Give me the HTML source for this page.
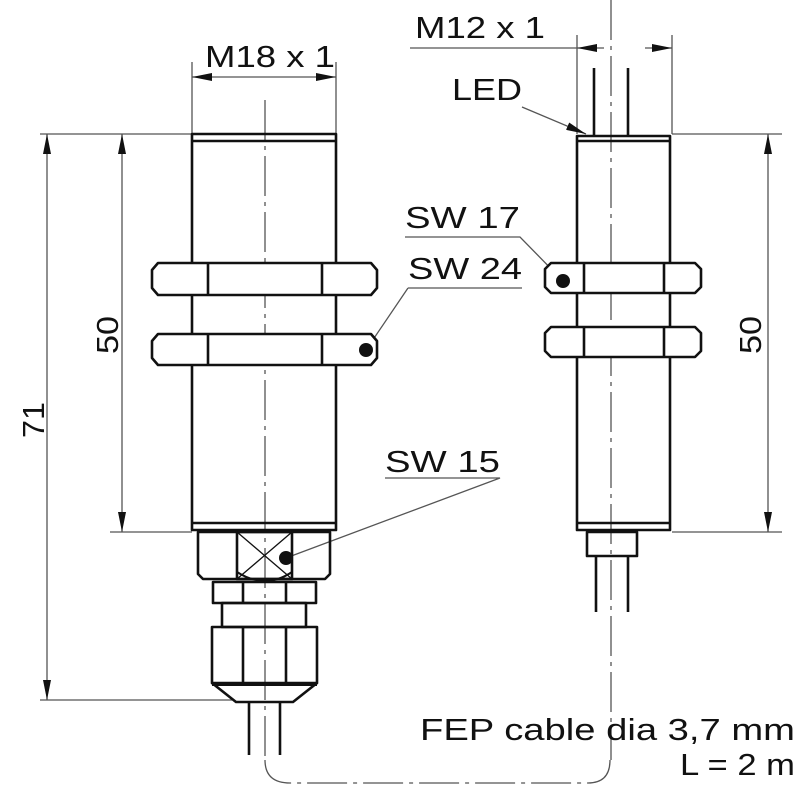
<!DOCTYPE html>
<html><head><meta charset="utf-8"><style>
html,body{margin:0;padding:0;background:#fff;}
svg{display:block;}
text{font-family:"Liberation Sans",Arial,sans-serif;fill:#111;}
</style></head><body>
<svg width="800" height="800" viewBox="0 0 800 800" xmlns="http://www.w3.org/2000/svg">
<defs>
<marker id="a" viewBox="0 0 20 8" refX="20" refY="4" markerWidth="20" markerHeight="8" markerUnits="userSpaceOnUse" orient="auto-start-reverse"><path d="M0,0 L20,4 L0,8 Z" fill="#111"/></marker>
</defs>
<g stroke="#555" stroke-width="1.3" fill="none">
<line x1="265" y1="100" x2="265" y2="760" stroke-dasharray="40,6,4,6"/>
<path d="M265,760 Q265,783 290,783 L588,783 Q610,783 610,760" stroke-dasharray="40,6,4,6"/>
<line x1="611" y1="0" x2="611" y2="760" stroke-dasharray="40,6,4,6"/>
<line x1="40" y1="134" x2="192" y2="134"/>
<line x1="40" y1="700" x2="232" y2="700"/>
<line x1="110" y1="532" x2="192" y2="532"/>
<line x1="47" y1="134" x2="47" y2="700" marker-start="url(#a)" marker-end="url(#a)"/>
<line x1="122" y1="134" x2="122" y2="532" marker-start="url(#a)" marker-end="url(#a)"/>
<line x1="192" y1="62" x2="192" y2="134"/>
<line x1="336" y1="62" x2="336" y2="134"/>
<line x1="192" y1="77" x2="336" y2="77" marker-start="url(#a)" marker-end="url(#a)"/>
<line x1="577" y1="35" x2="577" y2="134"/>
<line x1="672" y1="35" x2="672" y2="134"/>
<line x1="410" y1="48" x2="577" y2="48"/>
<line x1="577" y1="48" x2="604" y2="48" marker-start="url(#a)"/>
<line x1="645" y1="48" x2="672" y2="48" marker-end="url(#a)"/>
<line x1="672" y1="134" x2="782" y2="134"/>
<line x1="672" y1="532" x2="782" y2="532"/>
<line x1="768" y1="134" x2="768" y2="532" marker-start="url(#a)" marker-end="url(#a)"/>
<line x1="522" y1="107" x2="586" y2="134" marker-end="url(#a)"/>
<path d="M405,237 L520,237 L563,281"/>
<path d="M408,288 L522,288 M408,288 L366,350"/>
<path d="M385,478 L500,478 L286,558"/>
</g>
<g stroke="#111" stroke-width="2.6" fill="none" stroke-linejoin="round">
<rect x="192" y="134" width="144" height="396"/>
<line x1="192" y1="141" x2="336" y2="141"/>
<line x1="192" y1="523" x2="336" y2="523"/>
<path d="M152,270 L158,263 L371,263 L377,270 L377,288 L371,295 L158,295 L152,288 Z" fill="#fff"/>
<line x1="208" y1="263" x2="208" y2="295"/><line x1="322" y1="263" x2="322" y2="295"/>
<path d="M152,341 L158,334 L371,334 L377,341 L377,358 L371,365 L158,365 L152,358 Z" fill="#fff"/>
<line x1="208" y1="334" x2="208" y2="365"/><line x1="322" y1="334" x2="322" y2="365"/>
<path d="M198,532 L330,532 L330,574 L325,579 L203,579 L198,574 Z"/>
<rect x="237" y="532" width="55" height="47"/>
<path d="M237,532 L292,579 M292,532 L237,579" stroke-width="1.3"/>
<path d="M237,572 Q265,590 292,572" stroke-width="2"/>
<rect x="213" y="582" width="103" height="21"/>
<line x1="243" y1="582" x2="243" y2="603"/><line x1="286" y1="582" x2="286" y2="603"/>
<rect x="222" y="603" width="84" height="24"/>
<rect x="212" y="627" width="105" height="56"/>
<line x1="243" y1="627" x2="243" y2="683"/><line x1="286" y1="627" x2="286" y2="683"/>
<path d="M212,683 L236,702 L293,702 L317,683" />
<line x1="212" y1="684" x2="317" y2="684" stroke-width="4"/>
<line x1="249" y1="702" x2="249" y2="755"/><line x1="280" y1="702" x2="280" y2="755"/>
<rect x="577" y="136" width="93" height="394"/>
<line x1="577" y1="141" x2="670" y2="141"/>
<line x1="577" y1="523" x2="670" y2="523"/>
<line x1="594" y1="68" x2="594" y2="136"/><line x1="628" y1="68" x2="628" y2="136"/>
<path d="M545,269 L551,263 L695,263 L701,269 L701,287 L695,293 L551,293 L545,287 Z" fill="#fff"/>
<line x1="584" y1="263" x2="584" y2="293"/><line x1="664" y1="263" x2="664" y2="293"/>
<path d="M545,333 L551,327 L695,327 L701,333 L701,351 L695,357 L551,357 L545,351 Z" fill="#fff"/>
<line x1="584" y1="327" x2="584" y2="357"/><line x1="664" y1="327" x2="664" y2="357"/>
<rect x="587" y="532" width="50" height="24"/>
<line x1="596" y1="556" x2="596" y2="612"/><line x1="628" y1="556" x2="628" y2="612"/>
</g>
<g fill="#111">
<circle cx="563" cy="281" r="7"/>
<circle cx="366" cy="350" r="7"/>
<circle cx="286" cy="558" r="7"/>
</g>
<g font-size="31" lengthAdjust="spacingAndGlyphs">
<text x="205" y="67" textLength="130" lengthAdjust="spacingAndGlyphs">M18 x 1</text>
<text x="415" y="38" textLength="130" lengthAdjust="spacingAndGlyphs">M12 x 1</text>
<text x="452" y="100" textLength="70" lengthAdjust="spacingAndGlyphs">LED</text>
<text x="405" y="228" textLength="115" lengthAdjust="spacingAndGlyphs">SW 17</text>
<text x="408" y="279" textLength="114" lengthAdjust="spacingAndGlyphs">SW 24</text>
<text x="385" y="472" textLength="115" lengthAdjust="spacingAndGlyphs">SW 15</text>
<text x="420" y="740" textLength="375" lengthAdjust="spacingAndGlyphs">FEP cable dia 3,7 mm</text>
<text x="680" y="775" textLength="115" lengthAdjust="spacingAndGlyphs">L = 2 m</text>
<text transform="translate(44,438) rotate(-90)" textLength="36" lengthAdjust="spacingAndGlyphs">71</text>
<text transform="translate(118,354) rotate(-90)" textLength="38" lengthAdjust="spacingAndGlyphs">50</text>
<text transform="translate(761,354) rotate(-90)" textLength="38" lengthAdjust="spacingAndGlyphs">50</text>
</g>
</svg>
</body></html>
